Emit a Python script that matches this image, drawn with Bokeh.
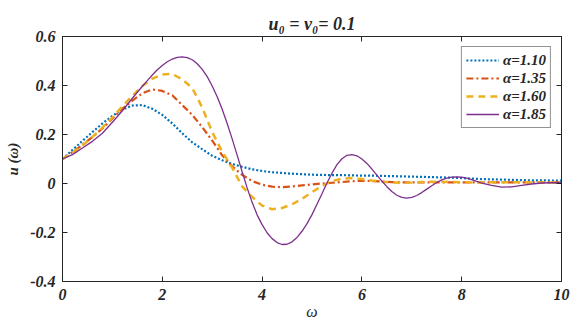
from bokeh.plotting import figure
from bokeh.models import Range1d, LinearAxis, FixedTicker
from bokeh.embed import file_html
from bokeh.resources import INLINE

# ---- data ----
omega = [0.0, 0.2, 0.4, 0.6, 0.8, 1.0, 1.2, 1.4, 1.6, 1.8,
         2.0, 2.2, 2.4, 2.6, 2.8, 3.0, 3.2, 3.4, 3.6, 3.8,
         4.0, 4.2, 4.4, 4.6, 4.8, 5.0, 5.2, 5.4, 5.6, 5.8,
         6.0, 6.2, 6.4, 6.6, 6.8, 7.0, 7.2, 7.4, 7.6, 7.8,
         8.0, 8.2, 8.4, 8.6, 8.8, 9.0, 9.2, 9.4, 9.6, 9.8, 10.0]

u_110 = [0.100, 0.137, 0.174, 0.210, 0.245, 0.276, 0.302, 0.318, 0.320, 0.305,
         0.280, 0.245, 0.205, 0.168, 0.140, 0.113, 0.095, 0.080, 0.068, 0.058,
         0.051, 0.046, 0.043, 0.040, 0.038, 0.036, 0.035, 0.034, 0.034, 0.033,
         0.032, 0.032, 0.031, 0.030, 0.029, 0.028, 0.027, 0.026, 0.025, 0.024,
         0.022, 0.020, 0.018, 0.017, 0.016, 0.015, 0.014, 0.013, 0.013, 0.012, 0.012]

u_135 = [0.100, 0.128, 0.158, 0.190, 0.225, 0.265, 0.305, 0.338, 0.368, 0.384,
         0.378, 0.360, 0.320, 0.280, 0.230, 0.175, 0.115, 0.070, 0.035, 0.010,
         -0.005, -0.013, -0.015, -0.012, -0.008, -0.004, 0.000, 0.003, 0.006, 0.009,
         0.011, 0.010, 0.008, 0.006, 0.005, 0.005, 0.005, 0.005, 0.005, 0.005,
         0.005, 0.005, 0.005, 0.005, 0.005, 0.005, 0.005, 0.005, 0.005, 0.005, 0.005]

u_160 = [0.100, 0.125, 0.155, 0.190, 0.228, 0.270, 0.315, 0.358, 0.398, 0.428,
         0.445, 0.447, 0.425, 0.390, 0.310, 0.210, 0.130, 0.065, -0.012, -0.055,
         -0.090, -0.105, -0.100, -0.085, -0.063, -0.035, -0.010, 0.010, 0.020, 0.022,
         0.018, 0.012, 0.007, 0.004, 0.003, 0.004, 0.006, 0.007, 0.007, 0.006,
         0.005, 0.004, 0.004, 0.005, 0.005, 0.005, 0.005, 0.004, 0.004, 0.004, 0.004]

omega_185 = [0.0, 0.2, 0.4, 0.6, 0.8, 1.0, 1.2, 1.4,
             1.6, 1.7, 1.8, 1.9, 2.0, 2.1, 2.2, 2.3, 2.4, 2.5, 2.6, 2.7, 2.8, 2.9,
             3.0, 3.1, 3.2, 3.3, 3.4, 3.5, 3.6, 3.7, 3.8, 3.9,
             4.0, 4.1, 4.2, 4.3, 4.4, 4.5, 4.6, 4.7, 4.8, 4.9,
             5.0, 5.1, 5.2, 5.3, 5.4, 5.5, 5.6, 5.7, 5.8, 5.9,
             6.0, 6.1, 6.2, 6.3, 6.4, 6.5, 6.6, 6.7, 6.8, 6.9,
             7.0, 7.1, 7.2, 7.3, 7.4, 7.5, 7.6, 7.7, 7.8, 7.9,
             8.0, 8.1, 8.2, 8.3, 8.4,
             8.6, 8.8, 9.0, 9.2, 9.4, 9.6, 9.8, 10.0]
u_185 = [0.100, 0.118, 0.145, 0.172, 0.205, 0.250, 0.297, 0.348,
         0.397, 0.420, 0.443, 0.464, 0.482, 0.497, 0.508, 0.515, 0.517, 0.514, 0.505, 0.489, 0.466, 0.436,
         0.398, 0.354, 0.303, 0.245, 0.182, 0.116, 0.048, -0.018, -0.077, -0.128,
         -0.168, -0.201, -0.225, -0.241, -0.249, -0.248, -0.238, -0.220, -0.195, -0.164,
         -0.127, -0.085, -0.042, 0.002, 0.042, 0.077, 0.101, 0.115, 0.118, 0.113,
         0.100, 0.082, 0.059, 0.034, 0.010, -0.013, -0.033, -0.048, -0.057, -0.060,
         -0.057, -0.049, -0.037, -0.023, -0.009, 0.004, 0.015, 0.022, 0.026, 0.027,
         0.026, 0.022, 0.016, 0.009, 0.002,
         -0.008, -0.015, -0.014, -0.008, -0.002, 0.002, 0.003, 0.003]

series_labels = ["α=1.10", "α=1.35", "α=1.60", "α=1.85"]
title_text = "u₀ = v₀= 0.1"
x_ticks = [0, 2, 4, 6, 8, 10]
x_tick_labels = ["0", "2", "4", "6", "8", "10"]
y_ticks = [-0.4, -0.2, 0, 0.2, 0.4, 0.6]
y_tick_labels = ["-0.4", "-0.2", "0", "0.2", "0.4", "0.6"]

# ---- styling ----
FONT = "Liberation Serif"
AX = "#262626"
colors = ["#0072BD", "#D95319", "#EDB120", "#7E2F8E"]
dashes = ["2 2", "7 3 2 3", "7 5", "solid"]
widths = [2.2, 2.2, 2.5, 1.3]

p = figure(width=571, height=324, x_range=Range1d(0, 10), y_range=Range1d(-0.4, 0.6),
           output_backend="svg", toolbar_location=None,
           min_border_left=62, min_border_right=10, min_border_top=36, min_border_bottom=43)
p.background_fill_color = "white"
p.border_fill_color = "white"
p.outline_line_color = AX
p.outline_line_width = 1
p.xgrid.visible = False
p.ygrid.visible = False

p.title.text = title_text
p.title.align = "center"
p.title.text_font = FONT
p.title.text_font_style = "bold italic"
p.title.text_font_size = "18px"
p.title.text_color = AX
p.title.standoff = 5

xs_list = [omega, omega, omega, omega_185]
for xs, ys, lab, c, d, w in zip(xs_list, [u_110, u_135, u_160, u_185], series_labels, colors, dashes, widths):
    p.line(xs, ys, line_color=c, line_dash=d, line_width=w, legend_label=lab)

def style_axis(ax, show_labels=True):
    ax.axis_line_color = AX
    ax.major_tick_line_color = AX
    ax.major_tick_in = 5
    ax.major_tick_out = 0
    ax.minor_tick_line_color = None
    ax.major_label_text_font = FONT
    ax.major_label_text_font_style = "bold italic"
    if show_labels:
        ax.major_label_text_font_size = "16px"
        ax.major_label_text_color = AX
    else:
        ax.major_label_text_font_size = "1px"
        ax.major_label_text_color = None
        ax.major_label_standoff = 0

xa = p.xaxis[0]
ya = p.yaxis[0]
xa.ticker = FixedTicker(ticks=x_ticks)
ya.ticker = FixedTicker(ticks=y_ticks)
xa.major_label_overrides = dict(zip(x_ticks, x_tick_labels))
ya.major_label_overrides = dict(zip(y_ticks, y_tick_labels))
style_axis(xa)
style_axis(ya)
xa.major_label_standoff = 7
ya.major_label_standoff = 7
xa.axis_label = "ω"
xa.axis_label_text_font = FONT
xa.axis_label_text_font_style = "italic"
xa.axis_label_text_font_size = "16px"
xa.axis_label_text_color = AX
xa.axis_label_standoff = 0
ya.axis_label = "u (ω)"
ya.axis_label_text_font = FONT
ya.axis_label_text_font_style = "bold italic"
ya.axis_label_text_font_size = "15px"
ya.axis_label_text_color = AX
ya.axis_label_standoff = 6

top = LinearAxis(ticker=FixedTicker(ticks=x_ticks))
right = LinearAxis(ticker=FixedTicker(ticks=y_ticks))
style_axis(top, False)
style_axis(right, False)
p.add_layout(top, "above")
p.add_layout(right, "right")

# ---- legend ----
lg = p.legend[0]
lg.location = "top_right"
lg.margin = 10
lg.padding = 4
lg.spacing = 0
lg.glyph_width = 33
lg.glyph_height = 18
lg.label_height = 18
lg.label_standoff = 4
lg.label_text_font = FONT
lg.label_text_font_style = "bold italic"
lg.label_text_font_size = "15px"
lg.label_text_color = AX
lg.border_line_color = AX
lg.border_line_width = 1
lg.background_fill_alpha = 1

open("out.html", "w").write(file_html(p, INLINE))
